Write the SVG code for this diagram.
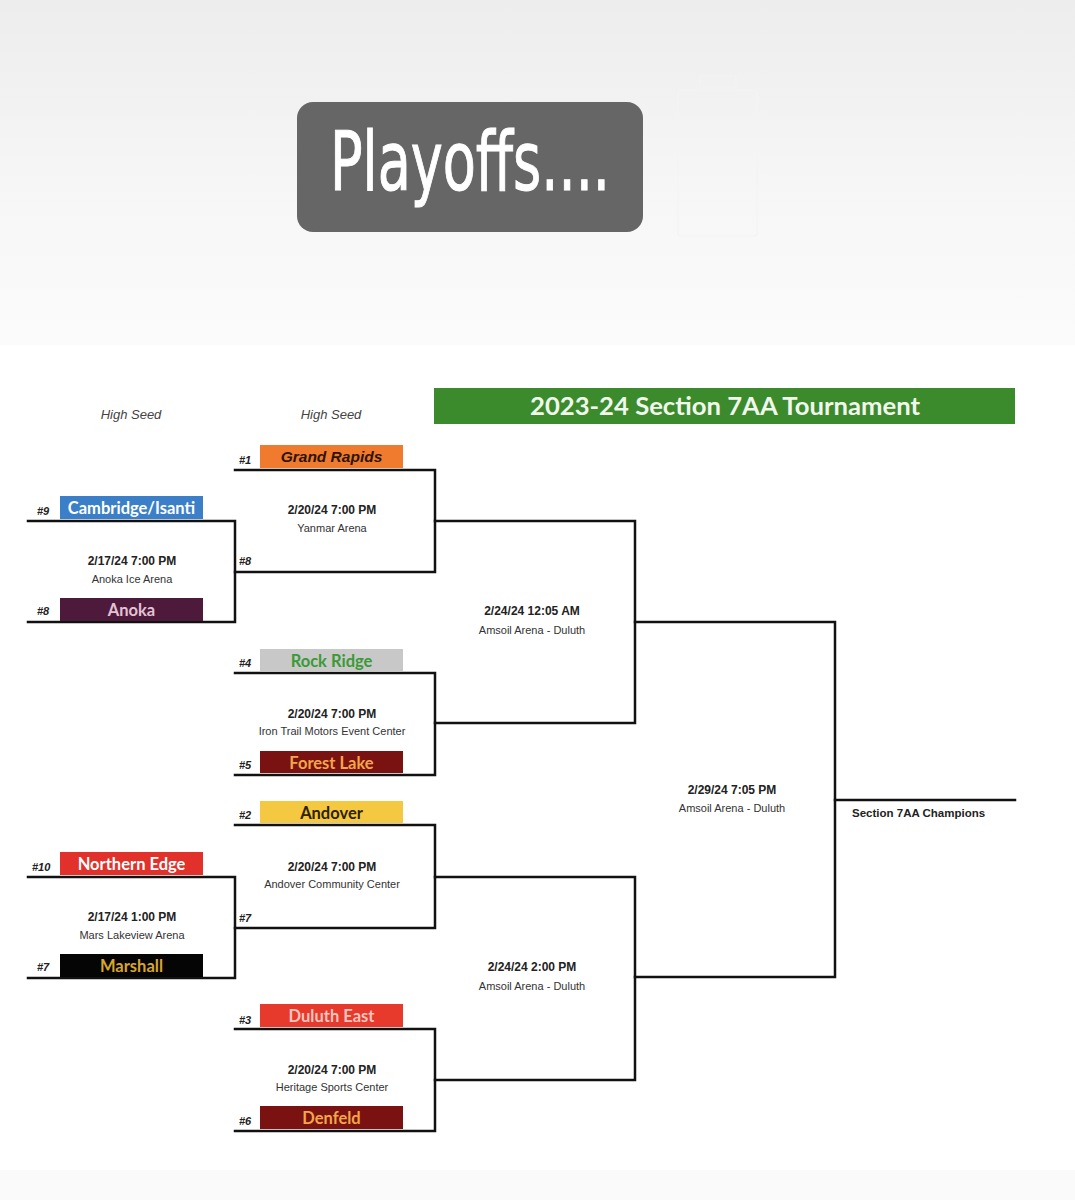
<svg xmlns="http://www.w3.org/2000/svg" width="1075" height="1200" viewBox="0 0 1075 1200">
<defs>
<linearGradient id="topbg" x1="0" y1="0" x2="0" y2="1">
<stop offset="0" stop-color="#ededed"/>
<stop offset="0.6" stop-color="#f7f7f7"/>
<stop offset="1" stop-color="#fbfbfb"/>
</linearGradient>
<style>
.ln{stroke:#111;stroke-width:2.5;fill:none;stroke-linecap:square}
.hs{font-family:"Liberation Sans",Arial,sans-serif;font-style:italic;font-size:13px;fill:#444;text-anchor:middle}
.seed{font-family:"Liberation Sans",Arial,sans-serif;font-style:italic;font-weight:bold;font-size:11px;fill:#222}
.team{font-family:Lato,"Open Sans",sans-serif;font-weight:bold;font-size:16.5px;text-anchor:middle}
.date{font-family:"Liberation Sans",Arial,sans-serif;font-weight:bold;font-size:12px;fill:#222;text-anchor:middle}
.venue{font-family:"Liberation Sans",Arial,sans-serif;font-size:11px;fill:#333;text-anchor:middle}
</style>
</defs>
<rect x="0" y="0" width="1075" height="345" fill="url(#topbg)"/>
<rect x="0" y="345" width="1075" height="825" fill="#ffffff"/>
<rect x="0" y="1170" width="1075" height="30" fill="#fafafa"/>

<g id="playoffs-banner">
<rect x="297" y="102" width="346" height="130" rx="16" fill="#666666"/>
<text x="330" y="190" font-family="'DejaVu Sans Condensed',Roboto,sans-serif" font-size="82" fill="#ffffff" stroke="#ffffff" stroke-width="1" textLength="280" lengthAdjust="spacingAndGlyphs">Playoffs....</text>
</g>
<g id="faint-icon" fill="none" stroke="#f3f3f3" stroke-width="1.2">
<rect x="678" y="90" width="79" height="146" rx="3"/>
<rect x="700" y="76" width="36" height="12" rx="2"/>
</g>

<g id="title">
<rect x="434" y="388" width="581" height="36" fill="#3b8a2c"/>
<text x="725" y="415" font-family="Lato,'Open Sans',sans-serif" font-weight="bold" font-size="24" fill="#f2f7ee" text-anchor="middle" textLength="390" lengthAdjust="spacingAndGlyphs">2023-24 Section 7AA Tournament</text>
</g>

<g id="headers">
<text class="hs" x="131" y="419">High Seed</text>
<text class="hs" x="331" y="419">High Seed</text>
</g>

<g id="connectors">
<path class="ln" d="M28,521 H235 V622 H28"/>
<path class="ln" d="M28,877 H235 V978 H28"/>
<path class="ln" d="M235,470 H435 V572 H235"/>
<path class="ln" d="M235,673 H435 V775 H235"/>
<path class="ln" d="M235,825 H435 V928 H235"/>
<path class="ln" d="M235,1029 H435 V1131 H235"/>
<path class="ln" d="M435,521 H635 V723 H435"/>
<path class="ln" d="M435,877 H635 V1080 H435"/>
<path class="ln" d="M635,622 H835 V977 H635"/>
<path class="ln" d="M835,800 H1015"/>
</g>

<g id="cambridge">
<rect x="60" y="496" width="143" height="23" fill="#3b7fc8"/>
<text class="team" x="131.5" y="513.5" fill="#ffffff">Cambridge/Isanti</text>
<text class="seed" x="37" y="515">#9</text>
</g>
<g id="anoka">
<rect x="60" y="598" width="143" height="23" fill="#4e1a3c"/>
<text class="team" x="131.5" y="615.5" fill="#e3c3d3">Anoka</text>
<text class="seed" x="37" y="615">#8</text>
</g>
<g id="game-playin-a">
<text class="date" x="132" y="565">2/17/24 7:00 PM</text>
<text class="venue" x="132" y="583">Anoka Ice Arena</text>
</g>

<g id="northern-edge">
<rect x="60" y="852" width="143" height="23" fill="#e2302a"/>
<text class="team" x="131.5" y="869.5" fill="#ffffff">Northern Edge</text>
<text class="seed" x="32" y="871">#10</text>
</g>
<g id="marshall">
<rect x="60" y="954" width="143" height="23" fill="#050505"/>
<text class="team" x="131.5" y="971.5" fill="#d9a62a">Marshall</text>
<text class="seed" x="37" y="971">#7</text>
</g>
<g id="game-playin-b">
<text class="date" x="132" y="921">2/17/24 1:00 PM</text>
<text class="venue" x="132" y="939">Mars Lakeview Arena</text>
</g>

<g id="grand-rapids">
<rect x="260" y="445" width="143" height="23" fill="#f07a2e"/>
<text x="331.5" y="462" font-family="'Liberation Sans',Arial,sans-serif" font-weight="bold" font-style="italic" font-size="15.5" fill="#2e1406" text-anchor="middle">Grand Rapids</text>
<text class="seed" x="239" y="464">#1</text>
</g>
<g id="qf1-low">
<text class="seed" x="239" y="565">#8</text>
</g>
<g id="game-qf1">
<text class="date" x="332" y="514">2/20/24 7:00 PM</text>
<text class="venue" x="332" y="532">Yanmar Arena</text>
</g>

<g id="rock-ridge">
<rect x="260" y="649" width="143" height="22" fill="#c8c8c8"/>
<text class="team" x="331.5" y="666.5" fill="#3a9a36">Rock Ridge</text>
<text class="seed" x="239" y="667">#4</text>
</g>
<g id="forest-lake">
<rect x="260" y="751" width="143" height="22" fill="#7a1212"/>
<text class="team" x="331.5" y="768.5" fill="#f2a64a">Forest Lake</text>
<text class="seed" x="239" y="769">#5</text>
</g>
<g id="game-qf2">
<text class="date" x="332" y="718">2/20/24 7:00 PM</text>
<text class="venue" x="332" y="735">Iron Trail Motors Event Center</text>
</g>

<g id="andover">
<rect x="260" y="801" width="143" height="22" fill="#f5c842"/>
<text class="team" x="331.5" y="818.5" fill="#2e2200">Andover</text>
<text class="seed" x="239" y="819">#2</text>
</g>
<g id="qf3-low">
<text class="seed" x="239" y="922">#7</text>
</g>
<g id="game-qf3">
<text class="date" x="332" y="871">2/20/24 7:00 PM</text>
<text class="venue" x="332" y="888">Andover Community Center</text>
</g>

<g id="duluth-east">
<rect x="260" y="1004" width="143" height="23" fill="#e8392d"/>
<text class="team" x="331.5" y="1021.5" fill="#f7c6bd">Duluth East</text>
<text class="seed" x="239" y="1024">#3</text>
</g>
<g id="denfeld">
<rect x="260" y="1106" width="143" height="23" fill="#7a1212"/>
<text class="team" x="331.5" y="1123.5" fill="#f2a64a">Denfeld</text>
<text class="seed" x="239" y="1125">#6</text>
</g>
<g id="game-qf4">
<text class="date" x="332" y="1074">2/20/24 7:00 PM</text>
<text class="venue" x="332" y="1091">Heritage Sports Center</text>
</g>

<g id="game-sf1">
<text class="date" x="532" y="615">2/24/24 12:05 AM</text>
<text class="venue" x="532" y="634">Amsoil Arena - Duluth</text>
</g>
<g id="game-sf2">
<text class="date" x="532" y="971">2/24/24 2:00 PM</text>
<text class="venue" x="532" y="990">Amsoil Arena - Duluth</text>
</g>
<g id="game-final">
<text class="date" x="732" y="794">2/29/24 7:05 PM</text>
<text class="venue" x="732" y="812">Amsoil Arena - Duluth</text>
</g>
<g id="champion">
<text x="852" y="817" font-family="'Liberation Sans',Arial,sans-serif" font-weight="bold" font-size="11.5" fill="#222">Section 7AA Champions</text>
</g>
</svg>
